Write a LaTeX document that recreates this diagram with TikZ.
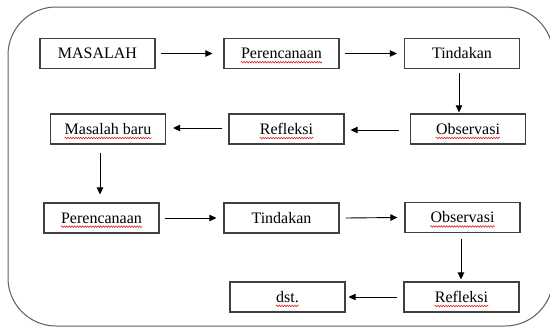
\documentclass[tikz,border=0pt]{standalone}
\usepackage{fontspec}
\setmainfont{Liberation Serif}
\usetikzlibrary{arrows.meta,decorations.pathmorphing}
\definecolor{edge}{HTML}{404040}
\definecolor{squigred}{HTML}{E02828}
\tikzset{
  stepbox/.style={draw=edge, line width=1.2pt, minimum width=115pt, minimum height=30pt, inner sep=0pt},
  txt/.style={inner sep=0pt, font=\fontsize{16}{19}\selectfont},
  arr/.style={draw=black, line width=0.9pt, -{Triangle[length=7pt,width=6.5pt]}},
  squig/.style={draw=squigred, line width=0.6pt, decorate, decoration={snake, segment length=2.6pt, amplitude=0.8pt}},
}
\begin{document}
\begin{tikzpicture}[x=1pt,y=-1pt]
\useasboundingbox (0,0) rectangle (550,327);
\draw[draw=edge!85, line width=1pt, rounded corners=48pt] (8,7) rectangle (553,326);

% boxes
\node[stepbox] (m1) at (97.5,53.5) {};
\node[stepbox] (p1) at (281.5,53.5) {};
\node[stepbox] (t1) at (462,53.5) {};
\node[stepbox] (mb) at (108,129) {};
\node[stepbox] (r2) at (286.5,129) {};
\node[stepbox] (o2) at (468,129) {};
\node[stepbox] (p3) at (101.5,218) {};
\node[stepbox] (t3) at (281.5,218) {};
\node[stepbox] (o3) at (462.5,217.5) {};
\node[stepbox] (d4) at (287.5,297) {};
\node[stepbox] (r4) at (461.5,297) {};

% texts
\node[txt] (m1t) at (m1) {MASALAH};
\node[txt] (p1t) at (p1) {Perencanaan};
\node[txt] (t1t) at (t1) {Tindakan};
\node[txt] (mbt) at (mb) {Masalah baru};
\node[txt] (r2t) at (r2) {Refleksi};
\node[txt] (o2t) at (o2) {Observasi};
\node[txt] (p3t) at (p3) {Perencanaan};
\node[txt] (t3t) at (t3) {Tindakan};
\node[txt] (o3t) at (o3) {Observasi};
\node[txt] (d4t) at (d4) {dst.};
\node[txt] (r4t) at (r4) {Refleksi};

% spell-check squiggles
\foreach \n in {p1t,r2t,o2t,p3t,o3t,d4t,r4t,mbt}
  \draw[squig] ([yshift=-3.5pt]\n.base west) -- ([yshift=-3.5pt]\n.base east);

% connectors
\draw[arr] ([xshift=5pt]m1.east) -- ([xshift=-11pt]p1.west);
\draw[arr] ([xshift=5pt]p1.east) -- ([xshift=-7pt]t1.west);
\draw[arr] ([xshift=-3pt,yshift=-4pt]t1.south) -- ([xshift=-3pt,yshift=1pt]t1.south |- o2.north);
\draw[arr] ([xshift=-11pt,yshift=-1pt]o2.west) -- ([xshift=6pt,yshift=-1pt]r2.east);
\draw[arr] ([xshift=-6pt,yshift=1pt]r2.west) -- ([xshift=7pt,yshift=1pt]mb.east);
\draw[arr] ([xshift=-8pt,yshift=-8pt]mb.south) -- ([xshift=-8pt,yshift=8pt]mb.south |- p3.north);
\draw[arr] ([xshift=5pt]p3.east) -- ([xshift=-7pt]t3.west);
\draw[arr] ([xshift=6pt]t3.east) -- ([xshift=-7pt]o3.west);
\draw[arr] ([xshift=-1.5pt,yshift=-6pt]o3.south) -- ([xshift=-1.5pt,yshift=2pt]o3.south |- r4.north);
\draw[arr] ([xshift=-6pt]r4.west) -- ([xshift=3pt]d4.east);
\end{tikzpicture}
\end{document}
